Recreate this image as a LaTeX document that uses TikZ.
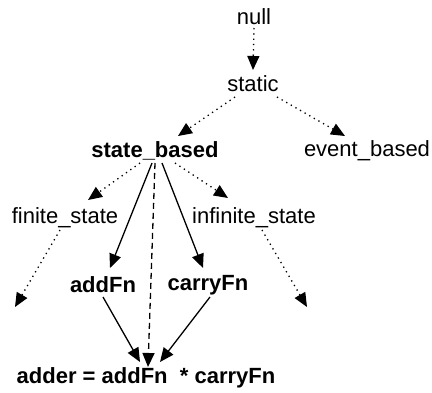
\documentclass[tikz,border=0pt]{standalone}
\usepackage{fontspec}
\setmainfont{Liberation Sans}
\usetikzlibrary{arrows.meta,calc}
\begin{document}
\begin{tikzpicture}[x=1pt,y=-1pt,
  lbl/.style={inner sep=0pt,font=\fontsize{22}{26}\selectfont},
  blbl/.style={lbl,font=\fontsize{22}{26}\selectfont\bfseries},
  arr/.style={line width=1.3pt,-{Triangle[length=14pt,width=12pt]}},
  dotarr/.style={arr,dash pattern=on 1.3pt off 4pt},
  dasharr/.style={arr,dash pattern=on 6pt off 4pt}]
\useasboundingbox (0,0) rectangle (432,392);
\node[lbl] (null) at (254,17) {null};
\node[lbl] (static) at (253,84) {static};
\node[blbl] (sb) at (155,151) {state\_based};
\node[lbl] (eb) at (367,151) {event\_based};
\node[lbl] (fs) at (65,218) {finite\_state};
\node[lbl] (is) at (254,218) {infinite\_state};
\node[blbl] (add) at (103,285) {addFn};
\node[blbl] (carry) at (208,285) {carryFn};
\node[blbl] (adder) at (146,378) {adder = addFn \ * carryFn};
\coordinate (fsend) at (15,307);
\coordinate (isend) at (307,307);
\draw[dotarr] ($(null)+(0,11)$) -- ($(static)+(0,-14)$);
\draw[dotarr] ($(static)+(-18,13)$) -- ($(sb)+(23,-15)$);
\draw[dotarr] ($(static)+(24,13)$) -- ($(eb)+(-22,-15)$);
\draw[dotarr] ($(sb)+(-15,12)$) -- ($(fs)+(23,-18)$);
\draw[dotarr] ($(sb)+(20,12)$) -- ($(is)+(-26,-20)$);
\draw[arr] ($(sb)+(-3,12)$) -- ($(add)+(7,-17)$);
\draw[arr] ($(sb)+(7,12)$) -- ($(carry)+(-5,-17)$);
\draw[dasharr] ($(sb)+(0,12)$) -- ($(adder)+(2,-11)$);
\draw[dotarr] ($(fs)+(-5,12)$) -- (fsend);
\draw[dotarr] ($(is)+(8,12)$) -- (isend);
\draw[arr] ($(add)+(0,12)$) -- ($(adder)+(-6,-16)$);
\draw[arr] ($(carry)+(2,12)$) -- ($(adder)+(14,-16)$);
\end{tikzpicture}
\end{document}
